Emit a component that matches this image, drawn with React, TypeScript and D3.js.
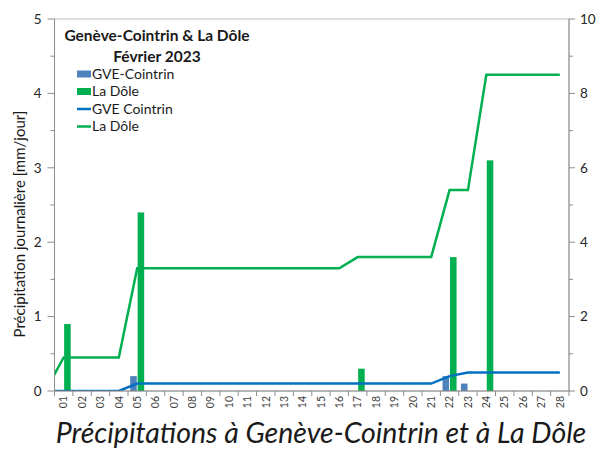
import React, { useRef, useEffect } from "react";
import * as d3 from "d3";

// jours de février 2023
const days = [
  "01", "02", "03", "04", "05", "06", "07", "08", "09", "10",
  "11", "12", "13", "14", "15", "16", "17", "18", "19", "20",
  "21", "22", "23", "24", "25", "26", "27", "28",
];

// précipitation journalière [mm/jour] (barres, axe gauche)
const gveDaily = [
  0, 0, 0, 0, 0.2, 0, 0, 0, 0, 0,
  0, 0, 0, 0, 0, 0, 0, 0, 0, 0,
  0, 0.2, 0.1, 0, 0, 0, 0, 0,
];
const doleDaily = [
  0.9, 0, 0, 0, 2.4, 0, 0, 0, 0, 0,
  0, 0, 0, 0, 0, 0, 0.3, 0, 0, 0,
  0, 1.8, 0, 3.1, 0, 0, 0, 0,
];

// cumul [mm] (lignes, axe droit) ; valeur du 31 janvier = 0
const cumulStart = 0;
const gveCumul = [
  0, 0, 0, 0, 0.2, 0.2, 0.2, 0.2, 0.2, 0.2,
  0.2, 0.2, 0.2, 0.2, 0.2, 0.2, 0.2, 0.2, 0.2, 0.2,
  0.2, 0.4, 0.5, 0.5, 0.5, 0.5, 0.5, 0.5,
];
const doleCumul = [
  0.9, 0.9, 0.9, 0.9, 3.3, 3.3, 3.3, 3.3, 3.3, 3.3,
  3.3, 3.3, 3.3, 3.3, 3.3, 3.3, 3.6, 3.6, 3.6, 3.6,
  3.6, 5.4, 5.4, 8.5, 8.5, 8.5, 8.5, 8.5,
];

const leftTicks = [0, 1, 2, 3, 4, 5];
const rightTicks = [0, 2, 4, 6, 8, 10];

const BLUE_BAR = "#4F81BD";
const GREEN = "#00B050";
const BLUE_LINE = "#0070C0";
const AXIS = "#8C8C8C";
const FONT = "Lato, 'Liberation Sans', sans-serif";

const App = () => {
  const svgRef = useRef<SVGSVGElement | null>(null);

  useEffect(() => {
    const width = 597;
    const height = 450;
    const margin = { top: 19, right: 28, bottom: 59, left: 54.5 };
    const x0 = margin.left;
    const x1 = width - margin.right;
    const y0 = height - margin.bottom;
    const yTop = margin.top;

    const svg = d3.select(svgRef.current);
    svg.selectAll("*").remove();
    svg.attr("width", width).attr("height", height);

    const x = d3.scaleBand().domain(days).range([x0, x1]).padding(0);
    const step = x.step();
    const sub = d3
      .scaleBand()
      .domain(["gve", "dole"])
      .range([-7, 7])
      .paddingInner(0.12);
    const yL = d3.scaleLinear().domain([0, 5]).range([y0, yTop]);
    const yR = d3.scaleLinear().domain([0, 10]).range([y0, yTop]);

    const center = (i: number) => (x(days[0]) as number) + step / 2 + i * step;

    // clip pour la ligne qui commence avant le 01
    svg
      .append("clipPath")
      .attr("id", "plotclip")
      .append("rect")
      .attr("x", x0)
      .attr("y", yTop - 5)
      .attr("width", x1 - x0)
      .attr("height", y0 - yTop + 5);

    // cadre
    svg
      .append("rect")
      .attr("x", x0)
      .attr("y", yTop)
      .attr("width", x1 - x0)
      .attr("height", y0 - yTop)
      .attr("fill", "none")
      .attr("stroke", "#BFBFBF")
      .attr("stroke-width", 1);

    // barres
    const bars = svg.append("g");
    bars
      .selectAll("rect.gve")
      .data(gveDaily)
      .join("rect")
      .attr("x", (d, i) => center(i) + (sub("gve") as number))
      .attr("y", (d) => yL(d))
      .attr("width", sub.bandwidth())
      .attr("height", (d) => y0 - yL(d))
      .attr("fill", BLUE_BAR);
    bars
      .selectAll("rect.dole")
      .data(doleDaily)
      .join("rect")
      .attr("x", (d, i) => center(i) + (sub("dole") as number))
      .attr("y", (d) => yL(d))
      .attr("width", sub.bandwidth())
      .attr("height", (d) => y0 - yL(d))
      .attr("fill", GREEN);

    // lignes de cumul (axe droit)
    const line = d3
      .line<number>()
      .x((d, i) => center(i - 1))
      .y((d) => yR(d));
    const lines = svg.append("g").attr("clip-path", "url(#plotclip)");
    lines
      .append("path")
      .attr("d", line([cumulStart, ...gveCumul]))
      .attr("fill", "none")
      .attr("stroke", BLUE_LINE)
      .attr("stroke-width", 2.5);
    lines
      .append("path")
      .attr("d", line([cumulStart, ...doleCumul]))
      .attr("fill", "none")
      .attr("stroke", GREEN)
      .attr("stroke-width", 2.5);

    // axe gauche
    const gL = svg.append("g");
    gL.append("line")
      .attr("x1", x0).attr("x2", x0).attr("y1", yTop).attr("y2", y0)
      .attr("stroke", AXIS);
    leftTicks.forEach((t) => {
      gL.append("line")
        .attr("x1", x0 - 7).attr("x2", x0).attr("y1", yL(t)).attr("y2", yL(t))
        .attr("stroke", AXIS);
      gL.append("text")
        .attr("x", x0 - 13).attr("y", yL(t)).attr("dy", "0.35em")
        .attr("text-anchor", "end")
        .style("font-family", FONT).style("font-size", "13.5px").attr("fill", "#262626")
        .text(t);
    });
    d3.range(0.5, 5, 1).forEach((t) => {
      gL.append("line")
        .attr("x1", x0 - 4).attr("x2", x0).attr("y1", yL(t)).attr("y2", yL(t))
        .attr("stroke", AXIS);
    });

    // axe droit
    const gR = svg.append("g");
    gR.append("line")
      .attr("x1", x1).attr("x2", x1).attr("y1", yTop).attr("y2", y0)
      .attr("stroke", AXIS);
    rightTicks.forEach((t) => {
      gR.append("line")
        .attr("x1", x1).attr("x2", x1 + 6).attr("y1", yR(t)).attr("y2", yR(t))
        .attr("stroke", AXIS);
      gR.append("text")
        .attr("x", x1 + 11).attr("y", yR(t)).attr("dy", "0.35em")
        .attr("text-anchor", "start")
        .style("font-family", FONT).style("font-size", "13.5px").attr("fill", "#262626")
        .text(t);
    });
    d3.range(1, 10, 2).forEach((t) => {
      gR.append("line")
        .attr("x1", x1).attr("x2", x1 + 4).attr("y1", yR(t)).attr("y2", yR(t))
        .attr("stroke", AXIS);
    });

    // axe des x
    const gX = svg.append("g");
    gX.append("line")
      .attr("x1", x0).attr("x2", x1).attr("y1", y0).attr("y2", y0)
      .attr("stroke", AXIS);
    d3.range(days.length + 1).forEach((i) => {
      const xt = x0 + i * step;
      gX.append("line")
        .attr("x1", xt).attr("x2", xt).attr("y1", y0).attr("y2", y0 + 5)
        .attr("stroke", AXIS);
    });
    days.forEach((d, i) => {
      gX.append("text")
        .attr("transform", `translate(${center(i)},${y0 + 5}) rotate(-90)`)
        .attr("dy", "0.35em")
        .attr("text-anchor", "end")
        .style("font-family", FONT).style("font-size", "10.5px").attr("fill", "#404040")
        .text(d);
    });

    // titre de l'axe y
    svg.append("text")
      .attr("transform", `translate(20,224) rotate(-90)`)
      .attr("dy", "0.35em")
      .attr("text-anchor", "middle")
      .style("font-family", FONT).style("font-size", "15px").attr("fill", "#1a1a1a")
      .text("Précipitation journalière [mm/jour]");

    // titre dans le graphique
    svg.append("text")
      .attr("x", 157).attr("y", 41)
      .attr("text-anchor", "middle")
      .style("font-family", FONT).style("font-size", "15.5px").style("font-weight", "bold")
      .attr("fill", "#1a1a1a")
      .text("Genève-Cointrin & La Dôle");
    svg.append("text")
      .attr("x", 157).attr("y", 62)
      .attr("text-anchor", "middle")
      .style("font-family", FONT).style("font-size", "15.5px").style("font-weight", "bold")
      .attr("fill", "#1a1a1a")
      .text("Février 2023");

    // légende
    const legend = [
      { label: "GVE-Cointrin", color: BLUE_BAR, type: "bar" },
      { label: "La Dôle", color: GREEN, type: "bar" },
      { label: "GVE Cointrin", color: BLUE_LINE, type: "line" },
      { label: "La Dôle", color: GREEN, type: "line" },
    ];
    const gLeg = svg.append("g");
    legend.forEach((l, i) => {
      const yc = 74 + i * 17.5;
      if (l.type === "bar") {
        gLeg.append("rect")
          .attr("x", 77).attr("y", yc - 3.5).attr("width", 14).attr("height", 7)
          .attr("fill", l.color);
      } else {
        gLeg.append("line")
          .attr("x1", 77).attr("x2", 91).attr("y1", yc).attr("y2", yc)
          .attr("stroke", l.color).attr("stroke-width", 2.5);
      }
      gLeg.append("text")
        .attr("x", 92).attr("y", yc).attr("dy", "0.35em")
        .style("font-family", FONT).style("font-size", "14px").attr("fill", "#1a1a1a")
        .text(l.label);
    });

    // titre en bas
    svg.append("text")
      .attr("x", 321).attr("y", 443)
      .attr("text-anchor", "middle")
      .style("font-family", FONT).style("font-size", "28.5px").style("font-style", "italic")
      .attr("fill", "#1a1a1a")
      .text("Précipitations à Genève-Cointrin et à La Dôle");
  }, []);

  return (
    <div style={{ position: "absolute", left: 0, top: 0, background: "#fff" }}>
      <svg ref={svgRef} style={{ display: "block" }} />
    </div>
  );
};

export default App;
